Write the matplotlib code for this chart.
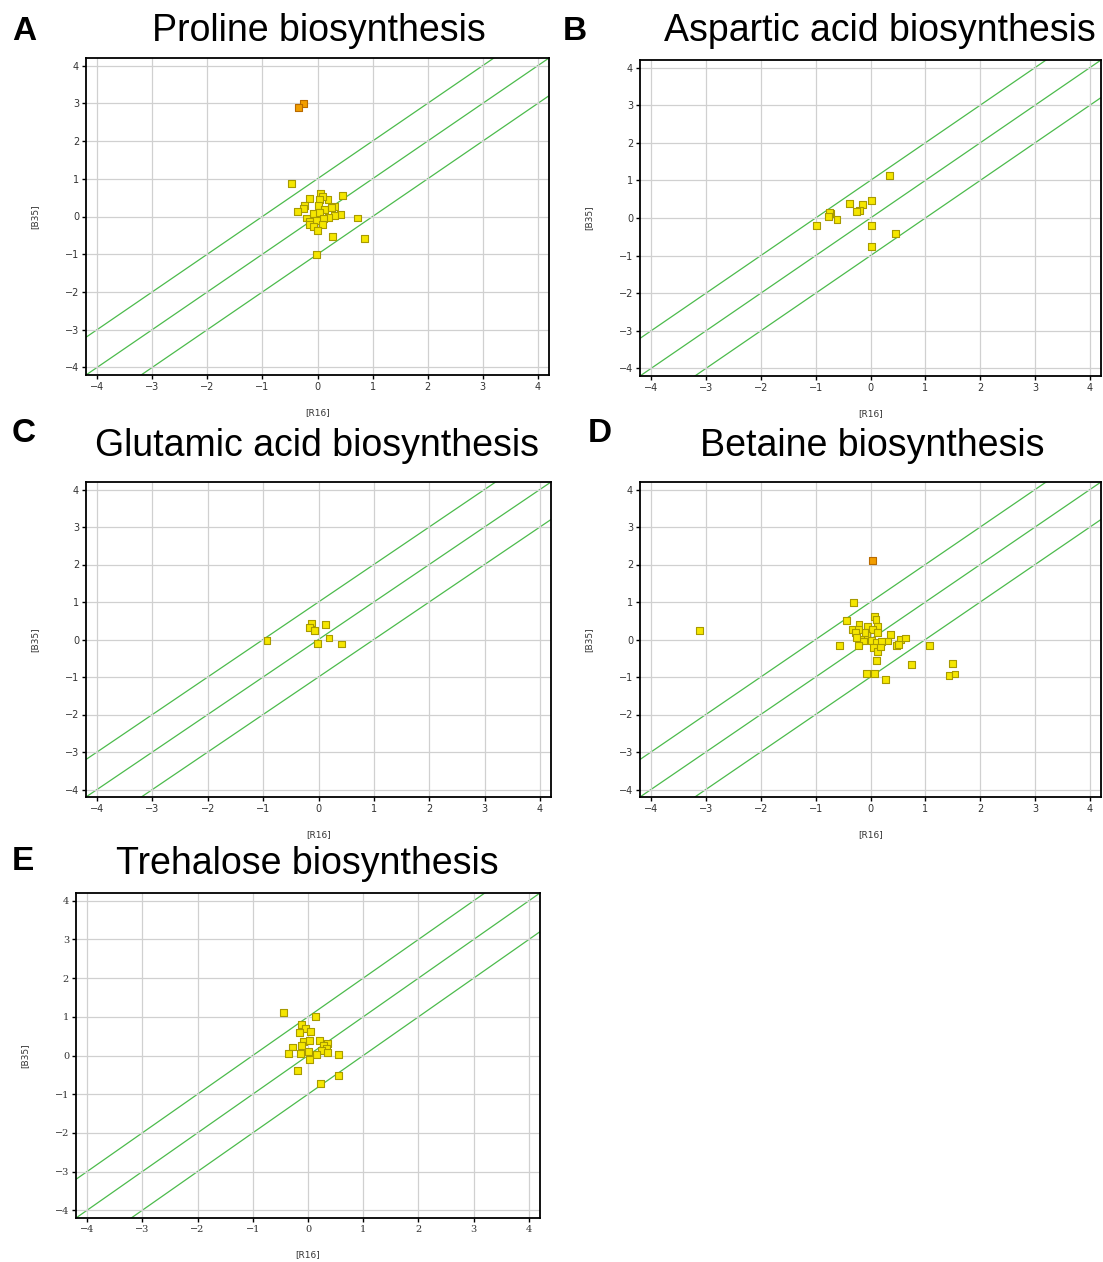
import matplotlib
matplotlib.use("Agg")
import matplotlib.pyplot as plt

# ---- data ----
# A: Proline biosynthesis
proline_x = [-0.25, -0.34, -0.48, 0.05, -0.14, 0.45, 0.19, 0.09, 0.03, -0.23, -0.26, 0.02, 0.12,
             0.31, 0.25, -0.37, -0.08, 0.03, 0.41, 0.30, 0.20, -0.20, 0.72, -0.14, -0.02, 0.11,
             -0.15, 0.09, -0.08, 0.00, 0.28, 0.85, -0.01]
proline_y = [2.99, 2.89, 0.87, 0.62, 0.47, 0.55, 0.45, 0.53, 0.45, 0.29, 0.21, 0.29, 0.18,
             0.27, 0.24, 0.12, 0.09, 0.10, 0.05, 0.02, -0.03, -0.04, -0.04, -0.12, -0.11, -0.06,
             -0.21, -0.21, -0.27, -0.36, -0.52, -0.58, -1.01]
proline_hi = [0, 1]

# B: Aspartic acid biosynthesis
aspartic_x = [0.34, -0.38, -0.15, -0.20, -0.25, 0.01, -0.73, -0.75, -0.77, -0.61, -0.99, 0.02, 0.45, 0.01]
aspartic_y = [1.13, 0.39, 0.37, 0.21, 0.18, 0.47, 0.13, 0.15, 0.04, -0.04, -0.21, -0.19, -0.40, -0.76]
aspartic_hi = []

# C: Glutamic acid biosynthesis
glutamic_x = [-0.93, -0.12, -0.17, -0.08, 0.12, 0.19, -0.01, 0.41]
glutamic_y = [-0.03, 0.44, 0.32, 0.23, 0.40, 0.04, -0.11, -0.12]
glutamic_hi = []

# D: Betaine biosynthesis
betaine_x = [0.04, -0.31, -3.12, -0.43, 0.07, 0.10, -0.21, -0.06, 0.12, -0.33, -0.22, 0.04, 0.13,
             -0.28, -0.07, -0.18, -0.13, 0.02, 0.11, 0.37, 0.31, 0.54, 0.64, 0.20, -0.57, -0.22,
             0.05, 0.13, 0.18, 0.48, 0.51, 1.07, 0.11, 0.75, 1.49, -0.07, 0.08, 0.27, 1.43, 1.54,
             -0.25, -0.10]
betaine_y = [2.11, 0.98, 0.24, 0.50, 0.62, 0.54, 0.41, 0.36, 0.36, 0.27, 0.27, 0.27, 0.18,
             0.18, 0.11, 0.00, -0.04, -0.02, -0.07, 0.14, -0.04, 0.00, 0.04, -0.06, -0.16, -0.16,
             -0.21, -0.32, -0.20, -0.15, -0.13, -0.16, -0.55, -0.67, -0.65, -0.90, -0.90, -1.07,
             -0.96, -0.92, 0.05, 0.18]
betaine_hi = [0]

# E: Trehalose biosynthesis
trehalose_x = [-0.45, 0.14, -0.12, -0.04, -0.15, 0.04, -0.08, 0.03, 0.21, -0.12, -0.28, 0.35, 0.28,
               0.33, 0.24, 0.01, 0.35, -0.35, -0.13, 0.16, 0.55, 0.03, -0.19, 0.56, 0.22]
trehalose_y = [1.11, 1.00, 0.79, 0.69, 0.60, 0.61, 0.37, 0.38, 0.39, 0.27, 0.22, 0.31, 0.26,
               0.18, 0.13, 0.10, 0.07, 0.04, 0.04, 0.03, 0.03, -0.11, -0.38, -0.51, -0.73]
trehalose_hi = []

letters = ["A", "B", "C", "D", "E"]
titles = ["Proline biosynthesis", "Aspartic acid biosynthesis", "Glutamic acid biosynthesis",
          "Betaine biosynthesis", "Trehalose biosynthesis"]
panels_x = [proline_x, aspartic_x, glutamic_x, betaine_x, trehalose_x]
panels_y = [proline_y, aspartic_y, glutamic_y, betaine_y, trehalose_y]
panels_hi = [proline_hi, aspartic_hi, glutamic_hi, betaine_hi, trehalose_hi]
ticks = [-4, -3, -2, -1, 0, 1, 2, 3, 4]
offsets = [-1, 0, 1]

W, H = 1103, 1262
fig = plt.figure(figsize=(W / 100, H / 100), dpi=100)

# pixel boxes: left, top, right, bottom
boxes = [(86, 58, 549, 375), (640, 60, 1101, 376), (86, 482, 551, 797),
         (640, 482, 1101, 797), (76, 893, 540, 1218)]
title_pos = [(319, 31), (880, 31), (317, 446), (872, 446), (307, 864)]
letter_pos = [(12, 31), (563, 31), (12, 434), (588, 434), (12, 862)]

for i in range(5):
    l, t, r, b = boxes[i]
    ax = fig.add_axes([l / W, 1 - b / H, (r - l) / W, (b - t) / H])
    ax.set_xlim(-4.2, 4.2)
    ax.set_ylim(-4.2, 4.2)
    ax.set_xticks(ticks)
    ax.set_yticks(ticks)
    ax.grid(True, color="#d0d0d0", lw=0.9, zorder=0)
    for off in offsets:
        ax.axline((0, off), slope=1, color="#4cbb4c", lw=0.9, zorder=1)

    xs, ys, hi = panels_x[i], panels_y[i], panels_hi[i]
    cols = ["#f29e00" if k in hi else "#f5e600" for k in range(len(xs))]
    edges = ["#b86a00" if k in hi else "#a89a00" for k in range(len(xs))]
    ax.scatter(xs, ys, marker="s", s=25, c=cols, edgecolors=edges, linewidths=0.8, zorder=3)

    for sp in ax.spines.values():
        sp.set_color("black")
        sp.set_linewidth(1.3)
    fam = "DejaVu Serif" if i == 4 else "DejaVu Sans"
    ax.tick_params(direction="out", length=3, width=1, labelsize=7, labelcolor="#333333", pad=2)
    for lab in ax.get_xticklabels() + ax.get_yticklabels():
        lab.set_family(fam)
    ax.set_xlabel("[R16]", fontsize=6.5, color="#333333", labelpad=12)
    ax.set_ylabel("[B35]", fontsize=6.5, color="#333333", labelpad=18)

    tx, ty = title_pos[i]
    fig.text(tx / W, 1 - ty / H, titles[i], ha="center", va="center", fontsize=27,
             family="Liberation Sans")
    lx, ly = letter_pos[i]
    fig.text(lx / W, 1 - ly / H, letters[i], ha="left", va="center", fontsize=24,
             fontweight="bold", family="Liberation Sans")

fig.savefig("out.png", dpi=100)
